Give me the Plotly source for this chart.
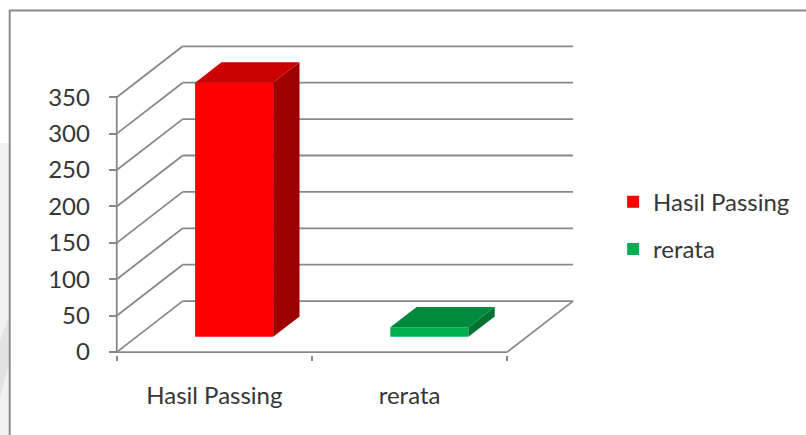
import plotly.graph_objects as go

# Data
categories = ["Hasil Passing", "rerata"]
values = [349, 13]
y_ticks = [0, 50, 100, 150, 200, 250, 300, 350]

# Bar colours: front, top, side
front_colors = ["#FF0000", "#00B050"]
top_colors = ["#CC0000", "#008A3E"]
side_colors = ["#9E0000", "#007232"]

# Oblique 3-D projection: full depth shift in axis units
DEPTH_DX = 0.3376     # x units
DEPTH_DY = 70.0       # value units
BAR_LO, BAR_HI = 0.3, 0.7       # bar span inside each category
DEP_LO, DEP_HI = 0.3, 0.7       # bar span along the depth
Y_TOP = 350
GRID = "#888888"
GRID_W = 1.8
TEXT = "#363636"
FONT = "Lato"

# page geometry (pixels) used to place paper-referenced decorations
W, H = 806, 435
ML, MR, MT, MB = 107, 210, 39, 80
PW, PH = W - ML - MR, H - MT - MB


def px_x(px):
    return (px - ML) / PW


def px_y(py):
    return 1 - (py - MT) / PH


n = len(categories)

fig = go.Figure()

# Walls and floor
shapes = []
line_style = dict(color=GRID, width=GRID_W)
for v in y_ticks:
    # left wall diagonal
    shapes.append(dict(type="line", xref="x", yref="y", x0=0, y0=v,
                       x1=DEPTH_DX, y1=v + DEPTH_DY, line=line_style, layer="below"))
    # back wall horizontal
    shapes.append(dict(type="line", xref="x", yref="y", x0=DEPTH_DX, y0=v + DEPTH_DY,
                       x1=n + DEPTH_DX, y1=v + DEPTH_DY, line=line_style, layer="below"))
# floor front edge and right edge
shapes.append(dict(type="line", xref="x", yref="y", x0=0, y0=0, x1=n, y1=0,
                   line=line_style, layer="below"))
shapes.append(dict(type="line", xref="x", yref="y", x0=n, y0=0, x1=n + DEPTH_DX, y1=DEPTH_DY,
                   line=line_style, layer="below"))
# vertical value axis line
shapes.append(dict(type="line", xref="x", yref="y", x0=0, y0=0, x1=0, y1=Y_TOP,
                   line=line_style, layer="below"))

# grey page strip left of the chart frame
shapes.append(dict(type="rect", xref="paper", yref="paper",
                   x0=px_x(-2), x1=px_x(8.5), y0=px_y(440), y1=px_y(143),
                   line=dict(width=0), fillcolor="#F1F1F1", layer="below"))
shapes.append(dict(type="path", xref="paper", yref="paper",
                   path=(f"M {px_x(-2)},{px_y(345)} L {px_x(8.5)},{px_y(318)} "
                         f"L {px_x(8.5)},{px_y(365)} L {px_x(-2)},{px_y(405)} Z"),
                   line=dict(width=0), fillcolor="#E2E2E2", layer="below"))

# chart frame (top and left edges visible)
shapes.append(dict(type="rect", xref="paper", yref="paper",
                   x0=px_x(9.5), x1=px_x(830), y0=px_y(460), y1=px_y(10.5),
                   line=dict(color="#8A8A8A", width=2), fillcolor="rgba(0,0,0,0)",
                   layer="below"))

for i, (cat, v) in enumerate(zip(categories, values)):
    x0 = i + BAR_LO + DEP_LO * DEPTH_DX
    x1 = i + BAR_HI + DEP_LO * DEPTH_DX
    yb = DEP_LO * DEPTH_DY
    yt = yb + v
    ddx = (DEP_HI - DEP_LO) * DEPTH_DX
    ddy = (DEP_HI - DEP_LO) * DEPTH_DY
    # side face
    fig.add_trace(go.Scatter(
        x=[x1, x1 + ddx, x1 + ddx, x1, x1], y=[yb, yb + ddy, yt + ddy, yt, yb],
        fill="toself", fillcolor=side_colors[i], mode="lines",
        line=dict(width=0, color=side_colors[i]), showlegend=False, hoverinfo="skip"))
    # top face
    fig.add_trace(go.Scatter(
        x=[x0, x1, x1 + ddx, x0 + ddx, x0], y=[yt, yt, yt + ddy, yt + ddy, yt],
        fill="toself", fillcolor=top_colors[i], mode="lines",
        line=dict(width=0, color=top_colors[i]), showlegend=False, hoverinfo="skip"))

# front faces as real bars (these also feed the legend)
for i, (cat, v) in enumerate(zip(categories, values)):
    fig.add_trace(go.Bar(
        x=[i + 0.5 + DEP_LO * DEPTH_DX], y=[v], base=[DEP_LO * DEPTH_DY],
        width=[BAR_HI - BAR_LO], name=cat, legendgroup=cat,
        marker=dict(color=front_colors[i], line=dict(width=0))))

fig.update_layout(
    width=W, height=H,
    margin=dict(l=ML, r=MR, t=MT, b=MB),
    paper_bgcolor="white", plot_bgcolor="rgba(0,0,0,0)",
    barmode="overlay",
    font=dict(family=FONT, size=24, color=TEXT),
    shapes=shapes,
    legend=dict(x=1.035, y=0.555, xanchor="left", yanchor="top",
                tracegroupgap=13, font=dict(family=FONT, size=24, color=TEXT),
                bgcolor="rgba(0,0,0,0)"),
    xaxis=dict(range=[-0.05, 2.45], tickmode="array",
               tickvals=[i + 0.5 for i in range(n)], ticktext=categories,
               ticks="", showgrid=False, zeroline=False, showline=False,
               ticklabelstandoff=24,
               minor=dict(tickmode="array", tickvals=list(range(n + 1)),
                          ticks="outside", ticklen=5, tickwidth=GRID_W, tickcolor=GRID,
                          showgrid=False)),
    yaxis=dict(range=[-4, 430], tickmode="array", tickvals=y_ticks,
               ticks="outside", ticklen=8, tickwidth=GRID_W, tickcolor=GRID,
               anchor="free", position=0.02,
               showgrid=False, zeroline=False, showline=False,
               ticklabelstandoff=14),
)

fig.write_html("out.html")
